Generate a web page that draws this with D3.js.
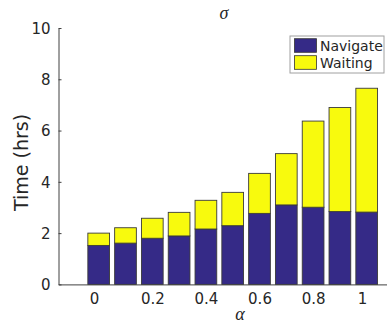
<!DOCTYPE html>
<html>
<head>
<meta charset="utf-8">
<script src="https://cdn.jsdelivr.net/npm/d3@7/dist/d3.min.js"></script>
<style>
  html, body { margin: 0; padding: 0; background: #fff; }
  svg { display: block; }
  text { font-family: "DejaVu Sans", sans-serif; fill: #262626; }
</style>
</head>
<body>
<svg id="chart" width="387" height="322"></svg>
<script>
// alpha values along the x axis
const alphas = [0, 0.1, 0.2, 0.3, 0.4, 0.5, 0.6, 0.7, 0.8, 0.9, 1.0];
// hours spent navigating
const navigate = [1.52, 1.61, 1.80, 1.89, 2.16, 2.29, 2.77, 3.10, 3.01, 2.84, 2.82];
// hours spent waiting (stacked on top of navigating)
const waiting = [0.48, 0.60, 0.78, 0.92, 1.12, 1.30, 1.56, 2.00, 3.36, 4.06, 4.83];
const seriesNames = ["Navigate", "Waiting"];
const seriesColors = ["#352a87", "#f8fa0d"];
const xTicks = [0, 0.2, 0.4, 0.6, 0.8, 1];
const yTicks = [0, 2, 4, 6, 8, 10];

const svg = d3.select("#chart");

const x = d3.scaleLinear().domain([-0.15, 1.15]).range([58.5, 406.9]);
const y = d3.scaleLinear().domain([0, 10]).range([284.4, 28]);
const barW = x(0.081) - x(0);

const rows = alphas.map((a, i) => ({ alpha: a, Navigate: navigate[i], Waiting: waiting[i] }));
const stacked = d3.stack().keys(seriesNames)(rows);

// stacked bars
const layers = svg.append("g").selectAll("g")
  .data(stacked)
  .join("g")
  .attr("fill", (d, i) => seriesColors[i]);

layers.selectAll("rect")
  .data(d => d)
  .join("rect")
  .attr("x", d => x(d.data.alpha) - barW / 2)
  .attr("width", barW)
  .attr("y", d => y(d[1]))
  .attr("height", d => y(d[0]) - y(d[1]))
  .attr("stroke", "#3a3a3a")
  .attr("stroke-width", 0.9);

// y axis: ticks point inward
const yAxis = svg.append("g")
  .attr("transform", `translate(${x.range()[0]},0)`)
  .call(d3.axisLeft(y).tickValues(yTicks).tickSize(-3).tickPadding(8).tickSizeOuter(0));
yAxis.select(".domain").attr("stroke", "#404040");
yAxis.selectAll(".tick line").attr("stroke", "#404040");
yAxis.selectAll(".tick text")
  .style("font-size", "15px")
  .attr("fill", "#262626")
  .attr("dy", "0.36em");

// x axis
const xAxis = svg.append("g")
  .attr("transform", `translate(0,${y(0)})`)
  .call(d3.axisBottom(x).tickValues(xTicks).tickSize(0).tickPadding(9).tickSizeOuter(0)
    .tickFormat(d3.format("")));
xAxis.select(".domain").attr("stroke", "#404040");
xAxis.selectAll(".tick text")
  .style("font-size", "15px")
  .attr("fill", "#262626")
  .attr("dx", d => (String(d).length === 1 ? -4.8 : 0));

// axis titles
svg.append("text")
  .attr("transform", "translate(28,162.5) rotate(-90)")
  .attr("text-anchor", "middle")
  .style("font-size", "19px")
  .text("Time (hrs)");

svg.append("text")
  .attr("x", 240).attr("y", 319.5)
  .attr("text-anchor", "middle")
  .style("font-family", "'Liberation Serif', serif")
  .style("font-style", "italic")
  .style("font-size", "18px")
  .text("α");

svg.append("text")
  .attr("x", 224).attr("y", 18.5)
  .attr("text-anchor", "middle")
  .style("font-family", "'Liberation Serif', serif")
  .style("font-style", "italic")
  .style("font-size", "18px")
  .text("σ");

// legend
const legend = svg.append("g");
legend.append("rect")
  .attr("x", 290).attr("y", 36).attr("width", 94).attr("height", 37)
  .attr("fill", "#fff").attr("stroke", "#a0a0a0").attr("stroke-width", 1);
const items = legend.selectAll("g.item")
  .data(seriesNames)
  .join("g")
  .attr("transform", (d, i) => `translate(294.5,${38.7 + i * 17})`);
items.append("rect")
  .attr("width", 22).attr("height", 13.6)
  .attr("fill", (d, i) => seriesColors[i])
  .attr("stroke", "#333").attr("stroke-width", 0.8);
items.append("text")
  .attr("x", 25.5).attr("y", 12)
  .style("font-size", "14px")
  .attr("fill", "#000")
  .text(d => d);
</script>
</body>
</html>
